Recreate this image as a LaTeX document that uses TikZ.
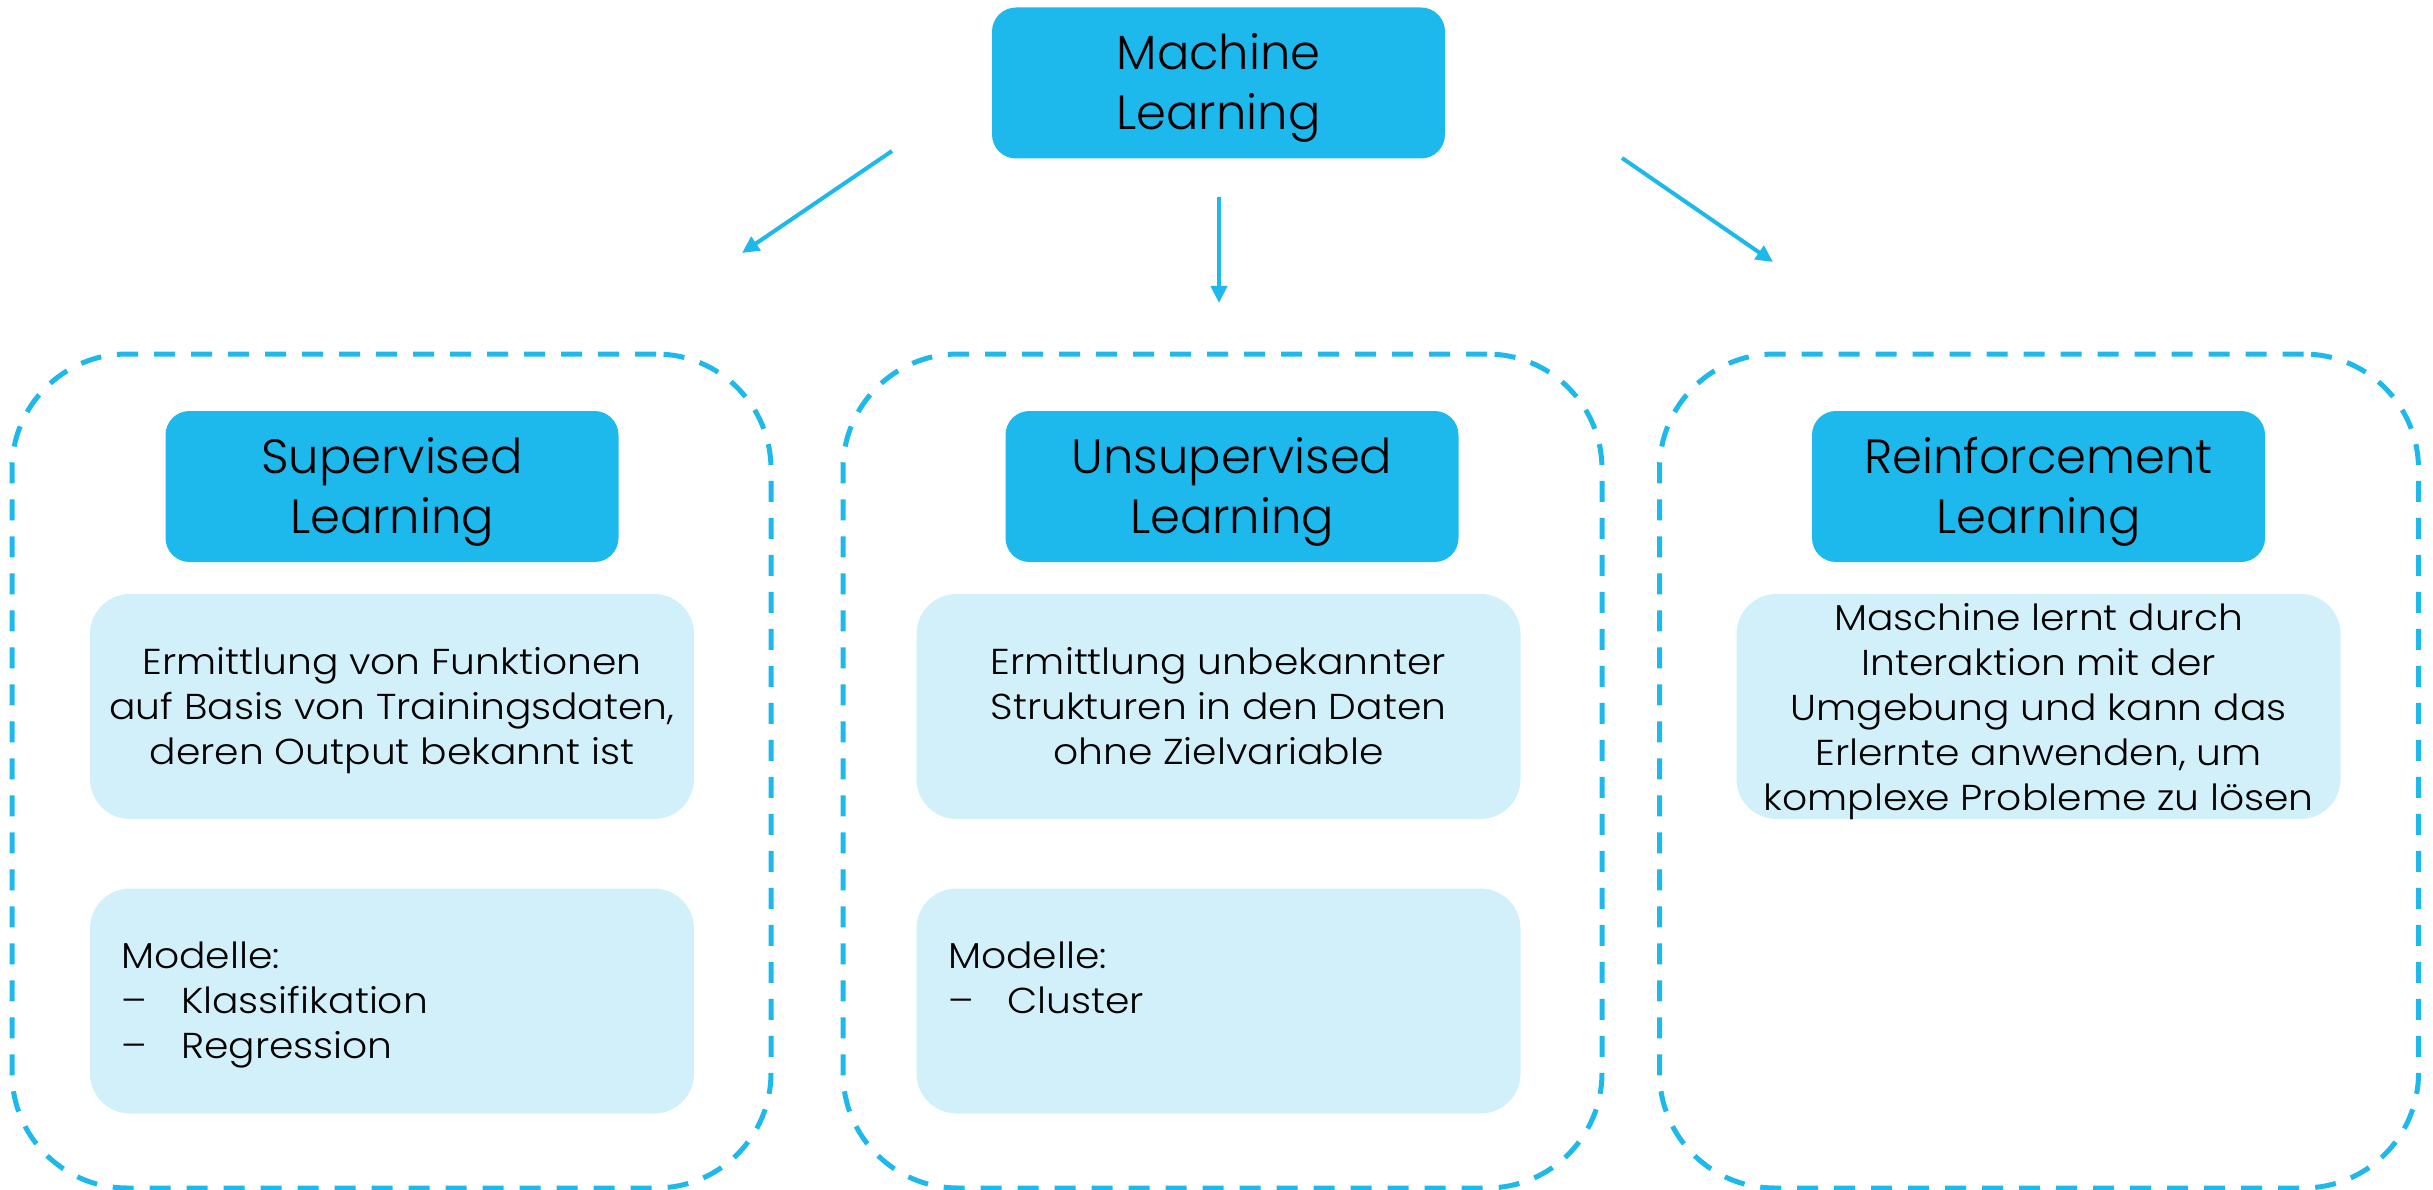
\documentclass[tikz,border=0pt]{standalone}
\usepackage{fontspec}
\setmainfont{Poppins Light}
\newfontfamily\bodyfont{Poppins Light}[FakeStretch=1.09]
\usetikzlibrary{arrows.meta}
\definecolor{mlblue}{HTML}{1DB8EC}
\definecolor{mllight}{HTML}{D1F0FA}
\begin{document}
\begin{tikzpicture}[x=1pt,y=-1pt,
  headbox/.style={fill=mlblue, rounded corners=24pt, minimum width=453pt,
    minimum height=151pt, inner sep=0pt},
  headtext/.style={anchor=base, inner sep=0pt, align=center,
    font=\fontsize{48}{60}\selectfont},
  groupbox/.style={draw=mlblue, line width=5pt, dash pattern=on 21pt off 16pt,
    rounded corners=115pt, minimum width=759pt, minimum height=834pt,
    inner sep=0pt, outer sep=0pt},
  infobox/.style={fill=mllight, rounded corners=40pt, minimum width=604pt,
    minimum height=225pt, inner sep=0pt},
  infotext/.style={anchor=base, inner sep=0pt, align=center,
    font=\bodyfont\fontsize{36}{45}\selectfont},
  listtext/.style={anchor=base west, inner sep=0pt, align=left,
    font=\bodyfont\fontsize{36}{45}\selectfont},
  conn/.style={draw=mlblue, line width=4pt,
    -{Triangle[length=17pt,width=16pt]}},
]
\useasboundingbox (0,0) rectangle (2433,1190);

% root
\node[headbox] (ml) at (1218.5,83) {};
\node[headtext] (mlt) at (1218.5,130) {Machine\\Learning};

% three groups
\node[groupbox] (g1) at (391.5,771) {};
\node[groupbox] (g2) at (1222.5,771) {};
\node[groupbox] (g3) at (2039,771) {};

% headings
\node[headbox] (sup) at (392,486.5) {};
\node[headbox] (uns) at (1232,486.5) {};
\node[headbox] (rei) at (2038.5,486.5) {};
\node[headtext] (supt) at (392,533) {Supervised\\Learning};
\node[headtext] (unst) at (1232,533) {Unsupervised\\Learning};
\node[headtext] (reit) at (2038.5,533) {Reinforcement\\Learning};

% descriptions
\node[infobox] (supd) at (392,706.5) {};
\node[infobox] (unsd) at (1218.5,706.5) {};
\node[infobox] (reid) at (2038.5,706.5) {};
\node[infotext] (supdt) at (392,764) {Ermittlung von Funktionen\\auf Basis von Trainingsdaten,\\deren Output bekannt ist};
\node[infotext] (unsdt) at (1218.5,764) {Ermittlung unbekannter\\Strukturen in den Daten\\ohne Zielvariable};
\node[infotext] (reidt) at (2038.5,810) {Maschine lernt durch\\Interaktion mit der\\Umgebung und kann das\\Erlernte anwenden, um\\komplexe Probleme zu lösen};

% model lists
\node[infobox] (supm) at (392,1001) {};
\node[infobox] (unsm) at (1218.5,1001) {};
\node[listtext] (supl) at (121,1058) {Modelle:\\\makebox[60pt][l]{–}Klassifikation\\\makebox[60pt][l]{–}Regression};
\node[listtext] (unsl) at (948,1013) {Modelle:\\\makebox[59pt][l]{–}Cluster};

% arrows
\coordinate (a1s) at (892,151);
\coordinate (a1e) at (742,253);
\coordinate (a2s) at (1219,197);
\coordinate (a2e) at (1219,303);
\coordinate (a3s) at (1622,158);
\coordinate (a3e) at (1773,262);
\draw[conn] (a1s) -- (a1e);
\draw[conn] (a2s) -- (a2e);
\draw[conn] (a3s) -- (a3e);
\end{tikzpicture}
\end{document}
